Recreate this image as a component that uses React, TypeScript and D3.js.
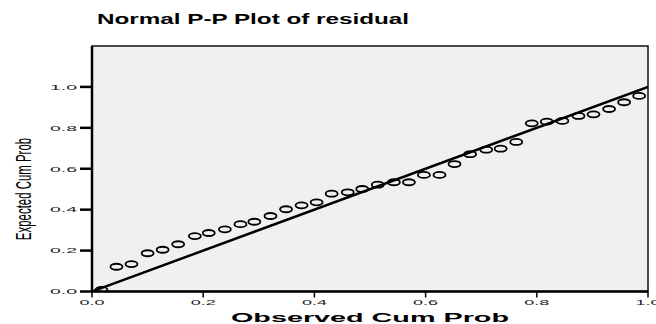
import { useRef, useEffect } from "react";
import * as d3 from "d3";

// observed cumulative probability (x) and expected cumulative probability (y)
const observed = [
  0.017, 0.044, 0.071, 0.1, 0.127, 0.155, 0.185, 0.21, 0.239, 0.267, 0.292,
  0.321, 0.349, 0.377, 0.404, 0.431, 0.46, 0.486, 0.514, 0.543, 0.57, 0.597,
  0.625, 0.652, 0.68, 0.709, 0.735, 0.763, 0.791, 0.818, 0.846, 0.875, 0.902,
  0.93, 0.957, 0.984,
];
const expected = [
  0.008, 0.121, 0.134, 0.187, 0.204, 0.231, 0.271, 0.286, 0.304, 0.329, 0.341,
  0.369, 0.402, 0.421, 0.436, 0.478, 0.485, 0.501, 0.522, 0.534, 0.534, 0.57,
  0.57, 0.623, 0.671, 0.693, 0.698, 0.731, 0.822, 0.83, 0.834, 0.858, 0.866,
  0.892, 0.925, 0.956,
];
const xTicks = [0, 0.2, 0.4, 0.6, 0.8, 1.0];
const yTicks = [0, 0.2, 0.4, 0.6, 0.8, 1.0];

const W = 656;
const H = 324;

export default function App() {
  const svgRef = useRef<SVGSVGElement>(null);

  useEffect(() => {
    if (!svgRef.current) return;
    const margin = { top: 46, right: 8, bottom: 32.5, left: 92 };
    const chartW = W - margin.left - margin.right;
    const chartH = H - margin.top - margin.bottom;

    const svg = d3.select(svgRef.current);
    svg.selectAll("*").remove();

    const x = d3.scaleLinear().domain([0, 1]).range([0, chartW]);
    const y = d3.scaleLinear().domain([0, 1.2]).range([chartH, 0]);

    const font = "'Liberation Sans', Arial, sans-serif";

    // title
    svg
      .append("text")
      .attr("x", 97)
      .attr("y", 23.5)
      .attr("textLength", 312)
      .attr("lengthAdjust", "spacingAndGlyphs")
      .style("font-family", font)
      .style("font-weight", "bold")
      .style("font-size", "14px")
      .text("Normal P-P Plot of residual");

    const g = svg.append("g").attr("transform", `translate(${margin.left},${margin.top})`);

    svg
      .append("defs")
      .append("clipPath")
      .attr("id", "plotClip")
      .append("rect")
      .attr("width", chartW)
      .attr("height", chartH);

    g.append("rect")
      .attr("width", chartW)
      .attr("height", chartH)
      .attr("fill", "#F0F0F0")
      .attr("stroke", "#111")
      .attr("stroke-width", 1.5);

    const plot = g.append("g").attr("clip-path", "url(#plotClip)");

    // reference diagonal
    plot
      .append("line")
      .attr("x1", x(0))
      .attr("y1", y(0))
      .attr("x2", x(1))
      .attr("y2", y(1))
      .attr("stroke", "#000")
      .attr("stroke-width", 2.5);

    // points
    plot
      .append("g")
      .selectAll("ellipse")
      .data(observed.map((o, i) => [o, expected[i]]))
      .join("ellipse")
      .attr("cx", (d) => x(d[0]))
      .attr("cy", (d) => y(d[1]))
      .attr("rx", 6)
      .attr("ry", 3)
      .attr("fill", "none")
      .attr("stroke", "#000")
      .attr("stroke-width", 1.8);

    // axis lines (left/bottom heavier)
    g.append("line")
      .attr("x1", 0)
      .attr("x2", 0)
      .attr("y1", 0)
      .attr("y2", chartH)
      .attr("stroke", "#000")
      .attr("stroke-width", 2.5);
    g.append("line")
      .attr("x1", 0)
      .attr("x2", chartW)
      .attr("y1", chartH)
      .attr("y2", chartH)
      .attr("stroke", "#000")
      .attr("stroke-width", 2.5);

    // Y ticks
    const yt = g.append("g").selectAll("g").data(yTicks).join("g")
      .attr("transform", (d) => `translate(0,${y(d)})`);
    yt.append("line")
      .attr("x1", -12)
      .attr("x2", 0)
      .attr("stroke", "#000")
      .attr("stroke-width", 2.5);
    yt.append("text")
      .attr("x", -15)
      .attr("dy", "0.35em")
      .attr("text-anchor", "end")
      .attr("textLength", 27)
      .attr("lengthAdjust", "spacingAndGlyphs")
      .style("font-family", font)
      .style("font-size", "8px")
      .style("fill", "#222")
      .text((d) => d3.format(".1f")(d));

    // X ticks
    const xt = g.append("g").selectAll("g").data(xTicks).join("g")
      .attr("transform", (d) => `translate(${x(d)},${chartH})`);
    xt.append("line")
      .attr("y1", 0)
      .attr("y2", 6)
      .attr("stroke", "#000")
      .attr("stroke-width", 1.5);
    xt.append("text")
      .attr("y", 13)
      .attr("text-anchor", "middle")
      .attr("textLength", 25)
      .attr("lengthAdjust", "spacingAndGlyphs")
      .style("font-family", font)
      .style("font-size", "8px")
      .style("fill", "#222")
      .text((d) => d3.format(".1f")(d));

    // axis titles
    svg
      .append("text")
      .attr("x", margin.left + chartW / 2)
      .attr("y", 322)
      .attr("text-anchor", "middle")
      .attr("textLength", 278)
      .attr("lengthAdjust", "spacingAndGlyphs")
      .style("font-family", font)
      .style("font-weight", "bold")
      .style("font-size", "12.5px")
      .text("Observed Cum Prob");

    // condensed vertical title: tall glyphs squeezed along the reading direction
    svg
      .append("text")
      .attr("transform", `translate(31,189) rotate(-90) scale(0.52,1)`)
      .attr("text-anchor", "middle")
      .style("font-family", font)
      .style("font-size", "22px")
      .text("Expected Cum Prob");
  }, []);

  return (
    <svg
      ref={svgRef}
      width={W}
      height={H}
      style={{ position: "absolute", left: 0, top: 0, display: "block", background: "#fff" }}
    />
  );
}
